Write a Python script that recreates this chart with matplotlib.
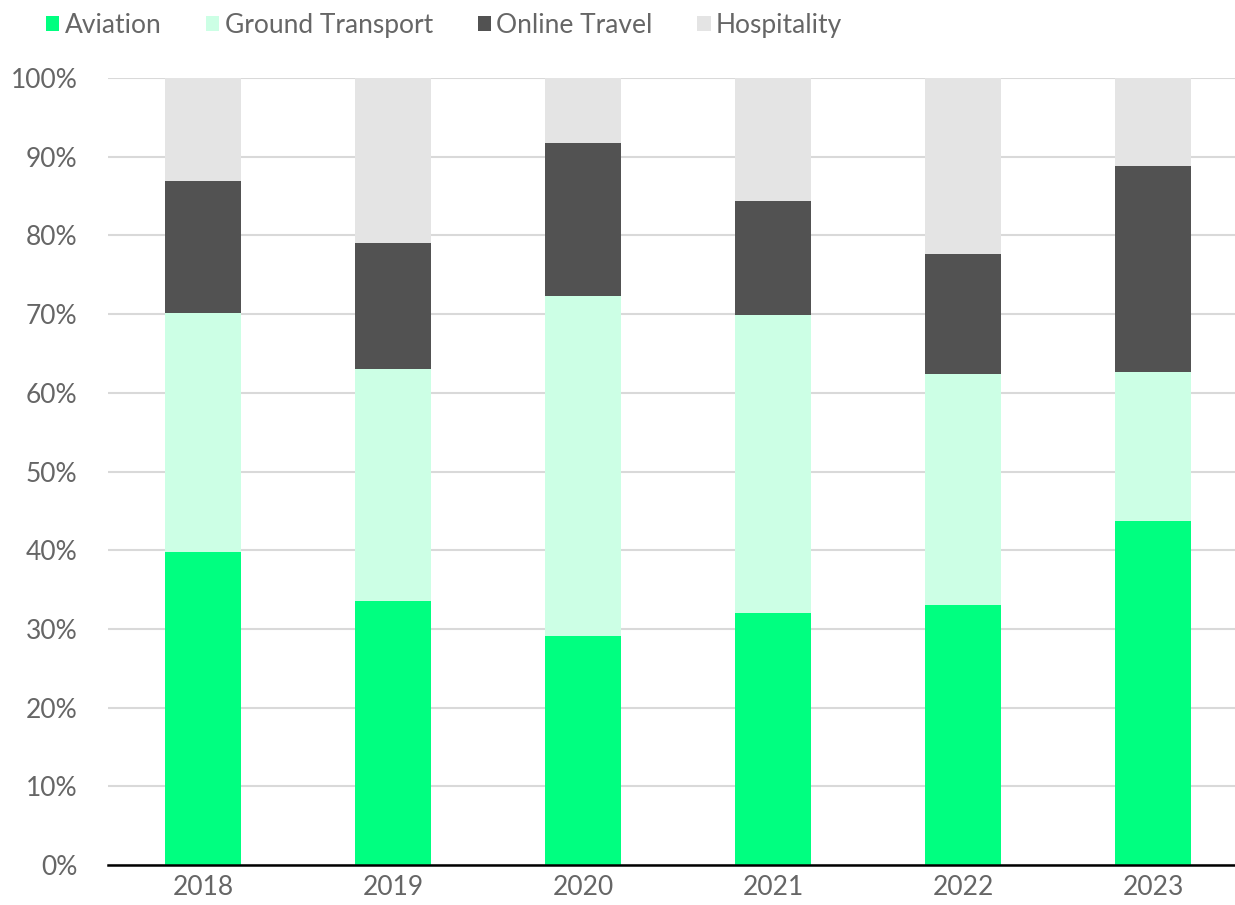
import matplotlib.pyplot as plt
import numpy as np
from matplotlib.ticker import FuncFormatter

plt.rcParams['font.family'] = ['Lato', 'DejaVu Sans']

years = ['2018', '2019', '2020', '2021', '2022', '2023']
aviation = [39.8, 33.5, 29.1, 32.0, 33.0, 43.7]
ground = [30.3, 29.5, 43.2, 37.9, 29.4, 18.9]
online = [16.8, 16.0, 19.4, 14.5, 15.2, 26.2]
hospitality = [13.1, 21.0, 8.3, 15.6, 22.4, 11.2]

series = [('Aviation', aviation, '#00ff80'),
          ('Ground Transport', ground, '#ccffe5'),
          ('Online Travel', online, '#525252'),
          ('Hospitality', hospitality, '#e4e4e4')]

fig = plt.figure(figsize=(12.35, 9.05), dpi=100)
ax = fig.add_axes([0.0875, 0.0442, 0.9125, 0.8696])

x = np.arange(len(years))
bottom = np.zeros(len(years))
for name, vals, col in series:
    ax.bar(x, vals, 0.4, bottom=bottom, color=col, label=name, zorder=3)
    bottom += np.array(vals)

ax.set_ylim(0, 100)
ax.set_xlim(-0.5, 5.43)
ax.set_yticks(np.arange(0, 101, 10))
ax.yaxis.set_major_formatter(FuncFormatter(lambda v, p: f'{v:.0f}%'))
ax.set_xticks(x)
ax.set_xticklabels(years)
ax.grid(axis='y', color='#d9d9d9', linewidth=1.5, zorder=0)
for s in ['top', 'right', 'left']:
    ax.spines[s].set_visible(False)
ax.spines['bottom'].set_color('black')
ax.spines['bottom'].set_linewidth(1.8)
ax.spines['bottom'].set_zorder(4)
ax.tick_params(axis='both', length=0, labelsize=19, labelcolor='#666666')
ax.tick_params(axis='x', pad=7)
ax.tick_params(axis='y', pad=22)

fig.legend(loc='upper left', bbox_to_anchor=(0.018, 1.012), ncol=4, frameon=False,
           fontsize=19, labelcolor='#666666', handlelength=0.5, handleheight=0.5,
           handletextpad=0.2, columnspacing=1.7)

plt.savefig('out.png', dpi=100)
